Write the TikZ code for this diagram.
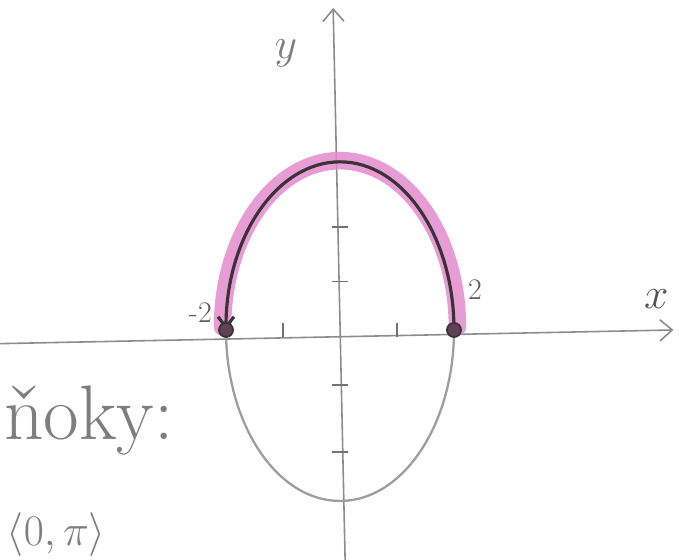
\documentclass[tikz,border=0pt]{standalone}
\usepackage{fontspec}
\usepackage{amsmath}
\usepackage{xcolor}
\usetikzlibrary{arrows.meta}
\definecolor{pencil}{HTML}{8C8C8C}
\definecolor{pencildark}{HTML}{3B3138}
\definecolor{marker}{HTML}{E38BCB}

\begin{document}
\begin{tikzpicture}[
  x=1.14cm,
  y=1.14cm,
  every node/.style={pencil},
  axis/.style={pencil, line width=0.9pt, -{Straight Barb[length=7pt, width=12pt]}},
  tick/.style={pencildark!70, line width=1pt},
  lowerarc/.style={pencil!85, line width=1.3pt},
  upperarc/.style={pencildark, line width=1.8pt, -{Straight Barb[length=6pt, width=9pt]}},
  highlight/.style={marker, line width=10pt, opacity=0.85, line cap=round},
  endpt/.style={circle, draw=pencildark, fill=pencildark!80!marker, line width=1pt,
                inner sep=0pt, minimum size=8pt},
  ticklab/.style={pencildark!80, font=\fontsize{17}{20}\selectfont, inner sep=1pt},
  hand/.style={pencil!90!black, font=\fontsize{44}{50}\selectfont, inner sep=0pt}
]
  % ---- page, same proportions as the sheet ----
  \useasboundingbox (-5.965,-4.035) rectangle (5.947,5.789);
  \clip (-5.965,-4.035) rectangle (5.947,5.789);

  % ---- axes ----
  \coordinate (xstart) at (-5.97,-0.24);
  \coordinate (xend)   at (5.85,0.0);
  \coordinate (ystart) at (0.09,-4.05);
  \coordinate (yend)   at (-0.12,5.65);
  \draw[axis] (xstart) -- (xend);
  \draw[axis] (ystart) -- (yend);
  \node[hand, font=\fontsize{32}{36}\selectfont] (ylab) at (-0.95,4.85) {$y$};
  \node[hand, pencildark!85, font=\fontsize{26}{30}\selectfont] (xlab) at (5.55,0.55) {$x$};

  % ---- ticks ----
  \foreach \t in {-1,1}
    \draw[tick] (\t,-0.12) -- (\t,0.12);
  \foreach \t in {0.85,1.8,-0.97,-2.14}
    \draw[tick] (-0.14,\t) -- (0.14,\t);
  \node[ticklab] (lminus) at (-2.45,0.3) {-2};
  \node[ticklab] (lplus)  at (2.37,0.7)  {2};

  % ---- ellipse x^2/4 + y^2/9 = 1 ----
  \coordinate (A) at (-2,0);
  \coordinate (B) at (2,0);
  \draw[lowerarc] (A) arc[start angle=180, end angle=360, x radius=2, y radius=3];
  \draw[highlight] (2.06,0.05) arc[start angle=0, end angle=180, x radius=2.06, y radius=2.92];
  \draw[upperarc] (B) arc[start angle=0, end angle=180, x radius=2, y radius=2.95];

  % ---- end points ----
  \node[endpt] (pa) at (A) {};
  \node[endpt] (pb) at (B) {};

  % ---- notes on the left edge ----
  \node[hand, anchor=base west] (note) at (-5.9,-1.93) {ňoky:};
  \node[hand, anchor=south west, font=\fontsize{28}{32}\selectfont] (range)
    at (-5.85,-3.98) {$\langle 0,\pi\rangle$};
\end{tikzpicture}
\end{document}
